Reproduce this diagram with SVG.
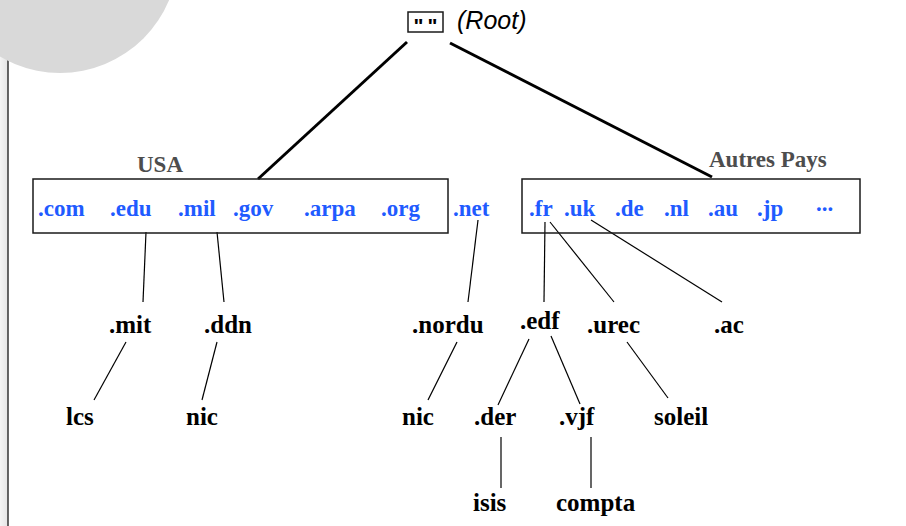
<svg xmlns="http://www.w3.org/2000/svg" width="906" height="526" viewBox="0 0 906 526">
<defs>
<linearGradient id="strip" x1="0" y1="0" x2="1" y2="0">
<stop offset="0" stop-color="#f4f4f4"/>
<stop offset="1" stop-color="#e4e4e4"/>
</linearGradient>
<style>
.blue{font-family:"Liberation Serif",serif;font-weight:bold;font-size:23px;fill:#1f5bff}
.grey{font-family:"Liberation Serif",serif;font-weight:bold;font-size:23px;fill:#4d4d4d}
.blk{font-family:"Liberation Serif",serif;font-weight:bold;font-size:25px;fill:#000}
.box{fill:none;stroke:#1a1a1a;stroke-width:1.5}
.thin{stroke:#000;stroke-width:1.2;fill:none}
.thick{stroke:#000;stroke-width:3;fill:none}
</style>
</defs>
<rect x="0" y="0" width="8" height="526" fill="url(#strip)"/>
<line x1="8" y1="0" x2="8" y2="526" stroke="#333" stroke-width="1.5"/>
<circle cx="60" cy="-45" r="118" fill="#d9d9d9"/>

<g id="connectors">
<line class="thick" x1="407" y1="42" x2="258" y2="179"/>
<line class="thick" x1="450" y1="43" x2="712" y2="177"/>
<line class="thin" x1="146" y1="232" x2="143" y2="302"/>
<line class="thin" x1="217" y1="232" x2="224" y2="302"/>
<line class="thin" x1="478" y1="220" x2="468" y2="302"/>
<line class="thin" x1="545" y1="222" x2="544" y2="302"/>
<line class="thin" x1="550" y1="222" x2="614" y2="302"/>
<line class="thin" x1="591" y1="220" x2="722" y2="302"/>
<line class="thin" x1="126" y1="342" x2="94" y2="400"/>
<line class="thin" x1="217" y1="342" x2="202" y2="400"/>
<line class="thin" x1="457" y1="342" x2="428" y2="400"/>
<line class="thin" x1="529" y1="339" x2="498" y2="405"/>
<line class="thin" x1="551" y1="336" x2="580" y2="404"/>
<line class="thin" x1="627" y1="342" x2="668" y2="398"/>
<line class="thin" x1="501" y1="437" x2="501" y2="488"/>
<line class="thin" x1="591" y1="437" x2="591" y2="488"/>
</g>

<g id="root">
<rect class="box" x="408" y="12" width="35" height="20" fill="#fff"/>
<text x="427.5" y="33" text-anchor="middle" font-family="Liberation Sans,sans-serif" font-weight="bold" font-size="21" letter-spacing="4">""</text>
<text x="457" y="29" font-family="Liberation Sans,sans-serif" font-style="italic" font-size="25">(Root)</text>
</g>

<g id="usa">
<rect class="box" x="33" y="179" width="415" height="54"/>
<text class="grey" x="137" y="172">USA</text>
<text class="blue" x="38" y="216">.com</text>
<text class="blue" x="110" y="216">.edu</text>
<text class="blue" x="178" y="216">.mil</text>
<text class="blue" x="233" y="216">.gov</text>
<text class="blue" x="304" y="216">.arpa</text>
<text class="blue" x="381" y="216">.org</text>
</g>

<g id="net"><text class="blue" x="453" y="216">.net</text></g>

<g id="autres">
<rect class="box" x="522" y="179" width="338" height="54"/>
<text class="grey" x="709" y="167">Autres Pays</text>
<text class="blue" x="529" y="216">.fr</text>
<text class="blue" x="564" y="216">.uk</text>
<text class="blue" x="615" y="216">.de</text>
<text class="blue" x="664" y="216">.nl</text>
<text class="blue" x="708" y="216">.au</text>
<text class="blue" x="757" y="216">.jp</text>
<text class="blue" x="816" y="211" font-size="17">...</text>
</g>

<g id="mit"><text class="blk" x="109" y="333">.mit</text></g>
<g id="ddn"><text class="blk" x="204" y="333">.ddn</text></g>
<g id="nordu"><text class="blk" x="412" y="333">.nordu</text></g>
<g id="edf"><text class="blk" x="520" y="329">.edf</text></g>
<g id="urec"><text class="blk" x="587" y="333">.urec</text></g>
<g id="ac"><text class="blk" x="714" y="333">.ac</text></g>
<g id="lcs"><text class="blk" x="66" y="425">lcs</text></g>
<g id="nic1"><text class="blk" x="186" y="425">nic</text></g>
<g id="nic2"><text class="blk" x="402" y="425">nic</text></g>
<g id="der"><text class="blk" x="474" y="425">.der</text></g>
<g id="vjf"><text class="blk" x="559" y="425">.vjf</text></g>
<g id="soleil"><text class="blk" x="654" y="425">soleil</text></g>
<g id="isis"><text class="blk" x="473" y="511">isis</text></g>
<g id="compta"><text class="blk" x="556" y="511">compta</text></g>
</svg>
